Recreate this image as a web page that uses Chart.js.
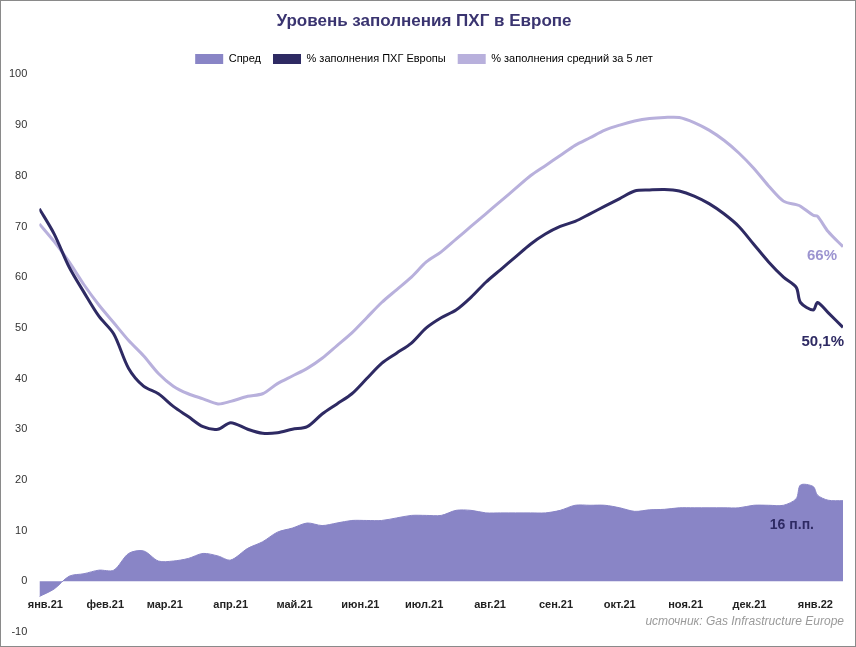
<!DOCTYPE html>
<html><head><meta charset="utf-8">
<script src="https://cdn.jsdelivr.net/npm/chart.js@4"></script>
<style>
html,body{margin:0;padding:0;background:#fff;}
#wrap{width:854px;height:645px;border:1px solid #8a8a8a;position:relative;}
</style></head>
<body><div id="wrap"><canvas id="c" width="854" height="645"></canvas></div>
<script>
// days since 1 Jan 2021
const days = [0,7,14,21,28,35,42,49,56,63,70,77,84,90,98,105,112,119,126,133,140,147,154,161,168,175,182,189,196,203,210,217,224,231,238,245,252,259,266,273,280,287,294,301,308,315,322,329,336,343,350,356,358,364,366,371,378];
const current = [73.5,68.5,62,57,52.3,48.8,42,38.5,37,34.5,32.5,30.5,30,31.3,30,29.2,29.3,30,30.5,33,35,37,40,43,45,47,50,52,53.5,56,59,61.5,64,66.5,68.5,70,71,72.5,74,75.5,77,77.2,77.3,77,76,74.5,72.5,70,66.5,63,60,58,55,53.5,55,53,50.1];
const average = [70.5,67,63,58.5,54.5,51,47.5,44.5,41,38.5,37,36,35,35.5,36.5,37,39,40.5,42,44,46.5,49,52,55,57.5,60,63,65,67.5,70,72.5,75,77.5,80,82,84,86,87.5,89,90,90.8,91.3,91.5,91.5,90.5,89,87,84.5,81.5,78,75,74.3,74,72.2,72,69,66];
const spread = average.map((v, i) => +(v - current[i]).toFixed(1));
const monthDays = [0,31,59,90,120,151,181,212,243,273,304,334,365];
const monthLabels = ['янв.21','фев.21','мар.21','апр.21','май.21','июн.21','июл.21','авг.21','сен.21','окт.21','ноя.21','дек.21','янв.22'];
const yTicks = [-10,0,10,20,30,40,50,60,70,80,90,100];

const pts = arr => arr.map((v, i) => ({x: days[i], y: v}));

const extras = {
  id: 'extras',
  afterDatasetsDraw(chart) {
    const c = chart.ctx, x = chart.scales.x, y = chart.scales.y;
    c.save();
    c.fillStyle = '#222';
    c.font = 'bold 11px "Liberation Sans", Arial';
    c.textAlign = 'center';
    monthDays.forEach((d, i) => c.fillText(monthLabels[i], x.getPixelForValue(d) + (i === 0 ? 6 : 0), y.getPixelForValue(0) + 24));
    c.font = 'bold 15px "Liberation Sans", Arial';
    c.textAlign = 'right';
    c.fillStyle = '#9c94d0';
    c.fillText('66%', x.getPixelForValue(378) - 6, y.getPixelForValue(66) + 5 + 0 * 1 - 0 + 4 + 0 - 0 + 0 - 0 + 0);
    c.fillStyle = '#2e2a63';
    c.fillText('50,1%', x.getPixelForValue(378) + 1, y.getPixelForValue(50.1) + 15);
    c.font = 'bold 14px "Liberation Sans", Arial';
    c.fillText('16 п.п.', x.getPixelForValue(370) - 12, y.getPixelForValue(11) );
    c.font = 'italic 12px "Liberation Sans", Arial';
    c.fillStyle = '#9a9a9a';
    c.fillText('источник: Gas Infrastructure Europe', x.getPixelForValue(378) + 1, y.getPixelForValue(-8));
    c.restore();
  }
};

new Chart(document.getElementById('c'), {
  type: 'line',
  data: {
    datasets: [
      {label: 'Спред', data: pts(spread), fill: 'origin', backgroundColor: '#8985c6', borderColor: '#8985c6', borderWidth: 1, pointRadius: 0, tension: 0.3, order: 3},
      {label: '% заполнения ПХГ Европы', data: pts(current), borderColor: '#2e2a63', backgroundColor: '#2e2a63', borderWidth: 3, pointRadius: 0, tension: 0.3, fill: false, order: 1},
      {label: '% заполнения средний за 5 лет', data: pts(average), borderColor: '#b8b0dc', backgroundColor: '#b8b0dc', borderWidth: 3, pointRadius: 0, tension: 0.3, fill: false, order: 2}
    ]
  },
  options: {
    responsive: false,
    animation: false,
    layout: {padding: {top: 0, right: 12, bottom: 14, left: 4}},
    plugins: {
      title: {display: true, text: 'Уровень заполнения ПХГ в Европе', color: '#3a3470', font: {size: 17, weight: 'bold', family: '"Liberation Sans", Arial'}, padding: {top: 10, bottom: 10}},
      legend: {labels: {color: '#222', font: {size: 11, family: '"Liberation Sans", Arial'}, boxWidth: 28, boxHeight: 10, padding: 12,
        generateLabels(chart) {
          return chart.data.datasets.map((d, i) => ({text: d.label, fillStyle: d.backgroundColor, strokeStyle: d.borderColor, lineWidth: 0, datasetIndex: i, pointStyle: i === 0 ? 'rect' : 'line'}));
        }}},
      tooltip: {enabled: false}
    },
    scales: {
      x: {type: 'linear', min: 0, max: 378, display: false},
      y: {min: -10, max: 100, afterBuildTicks: s => { s.ticks = yTicks.map(v => ({value: v})); },
        grid: {display: false}, border: {display: false},
        ticks: {color: '#333', font: {size: 11, family: '"Liberation Sans", Arial'}, padding: 4}}
    }
  },
  plugins: [extras]
});
</script></body></html>
